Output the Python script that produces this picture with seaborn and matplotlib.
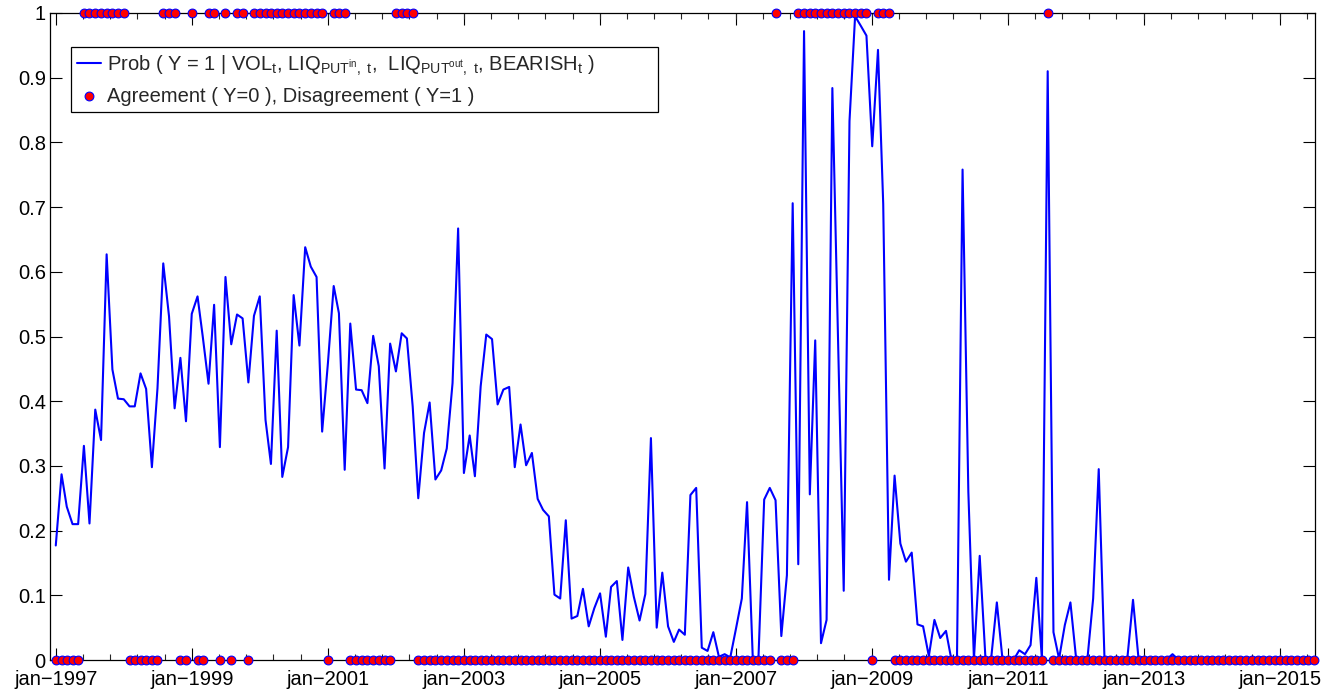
import numpy as np
import pandas as pd
import matplotlib
matplotlib.use('Agg')
import matplotlib.pyplot as plt
import matplotlib.dates as mdates
import seaborn as sns

# monthly observations, jan-1997 .. jul-2015
months = pd.date_range('1997-01-01', '2015-07-01', freq='MS')

# fitted probability
prob = [
    0.177, 0.287, 0.237, 0.210, 0.210, 0.331, 0.211, 0.387, 0.340, 0.627, 0.449, 0.404,  # 1997
    0.403, 0.392, 0.392, 0.443, 0.419, 0.298, 0.420, 0.613, 0.531, 0.389, 0.467, 0.369,  # 1998
    0.535, 0.562, 0.500, 0.427, 0.549, 0.329, 0.592, 0.488, 0.534, 0.528, 0.429, 0.532,  # 1999
    0.562, 0.371, 0.303, 0.509, 0.283, 0.329, 0.564, 0.486, 0.638, 0.608, 0.592, 0.353,  # 2000
    0.459, 0.578, 0.536, 0.294, 0.520, 0.418, 0.417, 0.397, 0.501, 0.454, 0.296, 0.489,  # 2001
    0.446, 0.505, 0.497, 0.392, 0.250, 0.351, 0.398, 0.279, 0.293, 0.327, 0.428, 0.667,  # 2002
    0.289, 0.347, 0.284, 0.423, 0.503, 0.496, 0.395, 0.418, 0.422, 0.298, 0.364, 0.301,  # 2003
    0.320, 0.249, 0.232, 0.222, 0.101, 0.095, 0.216, 0.064, 0.068, 0.110, 0.052, 0.080,  # 2004
    0.103, 0.036, 0.113, 0.122, 0.031, 0.143, 0.098, 0.061, 0.102, 0.343, 0.050, 0.135,  # 2005
    0.052, 0.028, 0.047, 0.039, 0.255, 0.266, 0.019, 0.014, 0.043, 0.005, 0.009, 0.004,  # 2006
    0.049, 0.095, 0.244, 0.001, 0.001, 0.248, 0.266, 0.247, 0.037, 0.131, 0.706, 0.148,  # 2007
    0.972, 0.256, 0.494, 0.026, 0.062, 0.884, 0.500, 0.107, 0.833, 0.995, 0.980, 0.965,  # 2008
    0.794, 0.943, 0.705, 0.124, 0.285, 0.180, 0.152, 0.166, 0.055, 0.052, 0.006, 0.062,  # 2009
    0.034, 0.045, 0.002, 0.001, 0.758, 0.260, 0.001, 0.161, 0.002, 0.001, 0.089, 0.002,  # 2010
    0.001, 0.001, 0.015, 0.009, 0.023, 0.127, 0.001, 0.910, 0.043, 0.002, 0.054, 0.089,  # 2011
    0.001, 0.001, 0.001, 0.095, 0.295, 0.001, 0.001, 0.001, 0.001, 0.001, 0.093, 0.001,  # 2012
    0.001, 0.001, 0.001, 0.001, 0.001, 0.009, 0.001, 0.001, 0.001, 0.001, 0.001, 0.001,  # 2013
    0.001, 0.001, 0.001, 0.001, 0.001, 0.001, 0.001, 0.001, 0.001, 0.001, 0.001, 0.001,  # 2014
    0.001, 0.001, 0.001, 0.001, 0.001, 0.001, 0.001,                                     # 2015
]

# agreement (0) / disagreement (1)
agree = [
    0, 0, 0, 0, 0, 1, 1, 1, 1, 1, 1, 1,  # 1997
    1, 0, 0, 0, 0, 0, 0, 1, 1, 1, 0, 0,  # 1998
    1, 0, 0, 1, 1, 0, 1, 0, 1, 1, 0, 1,  # 1999
    1, 1, 1, 1, 1, 1, 1, 1, 1, 1, 1, 1,  # 2000
    0, 1, 1, 1, 0, 0, 0, 0, 0, 0, 0, 0,  # 2001
    1, 1, 1, 1, 0, 0, 0, 0, 0, 0, 0, 0,  # 2002
    0, 0, 0, 0, 0, 0, 0, 0, 0, 0, 0, 0,  # 2003
    0, 0, 0, 0, 0, 0, 0, 0, 0, 0, 0, 0,  # 2004
    0, 0, 0, 0, 0, 0, 0, 0, 0, 0, 0, 0,  # 2005
    0, 0, 0, 0, 0, 0, 0, 0, 0, 0, 0, 0,  # 2006
    0, 0, 0, 0, 0, 0, 0, 1, 0, 0, 0, 1,  # 2007
    1, 1, 1, 1, 1, 1, 1, 1, 1, 1, 1, 1,  # 2008
    0, 1, 1, 1, 0, 0, 0, 0, 0, 0, 0, 0,  # 2009
    0, 0, 0, 0, 0, 0, 0, 0, 0, 0, 0, 0,  # 2010
    0, 0, 0, 0, 0, 0, 0, 1, 0, 0, 0, 0,  # 2011
    0, 0, 0, 0, 0, 0, 0, 0, 0, 0, 0, 0,  # 2012
    0, 0, 0, 0, 0, 0, 0, 0, 0, 0, 0, 0,  # 2013
    0, 0, 0, 0, 0, 0, 0, 0, 0, 0, 0, 0,  # 2014
    0, 0, 0, 0, 0, 0, 0,                 # 2015
]

tick_years = [1997, 1999, 2001, 2003, 2005, 2007, 2009, 2011, 2013, 2015]
tick_labels = ['jan\u2212%d' % y for y in tick_years]
y_ticks = [0, 0.1, 0.2, 0.3, 0.4, 0.5, 0.6, 0.7, 0.8, 0.9, 1]
y_labels = ['0', '0.1', '0.2', '0.3', '0.4', '0.5', '0.6', '0.7', '0.8', '0.9', '1']

# trailing blanks give the legend box the wide right margin of the original
line_label = (r'Prob ( Y = 1 | VOL$_t$, LIQ$_{PUT^{in},\ t}$,  '
              r'LIQ$_{PUT^{out},\ t}$, BEARISH$_t$ )' + '\u00a0' * 11)
dot_label = 'Agreement ( Y=0 ), Disagreement ( Y=1 )'

sns.set_style('ticks')
plt.rcParams['font.family'] = ['Liberation Sans', 'DejaVu Sans']
plt.rcParams['mathtext.fontset'] = 'custom'
plt.rcParams['mathtext.rm'] = 'Liberation Sans'
plt.rcParams['mathtext.it'] = 'Liberation Sans'
plt.rcParams['mathtext.default'] = 'regular'

fig = plt.figure(figsize=(13.27, 6.93), dpi=100)
ax = fig.add_axes([50 / 1327, 33 / 693, 1265 / 1327, 647 / 693])

sns.lineplot(x=months, y=prob, color='blue', linewidth=1.5, label=line_label, ax=ax)
sns.scatterplot(x=months, y=agree, color='red', edgecolor='blue', linewidth=0.8,
                s=40, label=dot_label, ax=ax, zorder=3, clip_on=False)

# x axis: majors every two years, 4 minors in between
major = mdates.date2num([pd.Timestamp('%d-01-01' % y) for y in tick_years])
left = mdates.date2num(pd.Timestamp('1996-12-01'))
right = mdates.date2num(pd.Timestamp('2015-07-06'))
step = (major[1] - major[0]) / 5
minor = np.arange(major[0], right, step)
ax.set_xlim(left, right)
ax.set_xticks(major)
ax.set_xticklabels(tick_labels)
ax.set_xticks(minor, minor=True)

ax.set_ylim(0, 1)
ax.set_yticks(y_ticks)
ax.set_yticklabels(y_labels)
ax.set_xlabel('')
ax.set_ylabel('')

for s in ax.spines.values():
    s.set_visible(True)
    s.set_color('black')
    s.set_linewidth(0.9)

ax.tick_params(which='major', direction='in', top=True, right=True, length=8.6, width=0.8,
               labelsize=14.5, colors='black')
ax.tick_params(axis='x', which='minor', direction='in', top=True, bottom=True, length=4.3, width=0.8)
ax.tick_params(axis='x', which='major', pad=7)
ax.tick_params(axis='y', which='major', pad=3)

leg = ax.legend(loc='upper left', bbox_to_anchor=(0.0166, 0.947), borderaxespad=0,
                fancybox=False, edgecolor='black', framealpha=1, fontsize=14.5,
                handlelength=1.2, handletextpad=0.3, labelspacing=0.45, borderpad=0.3)
leg.get_frame().set_linewidth(0.9)

fig.savefig('out.png', dpi=100)
